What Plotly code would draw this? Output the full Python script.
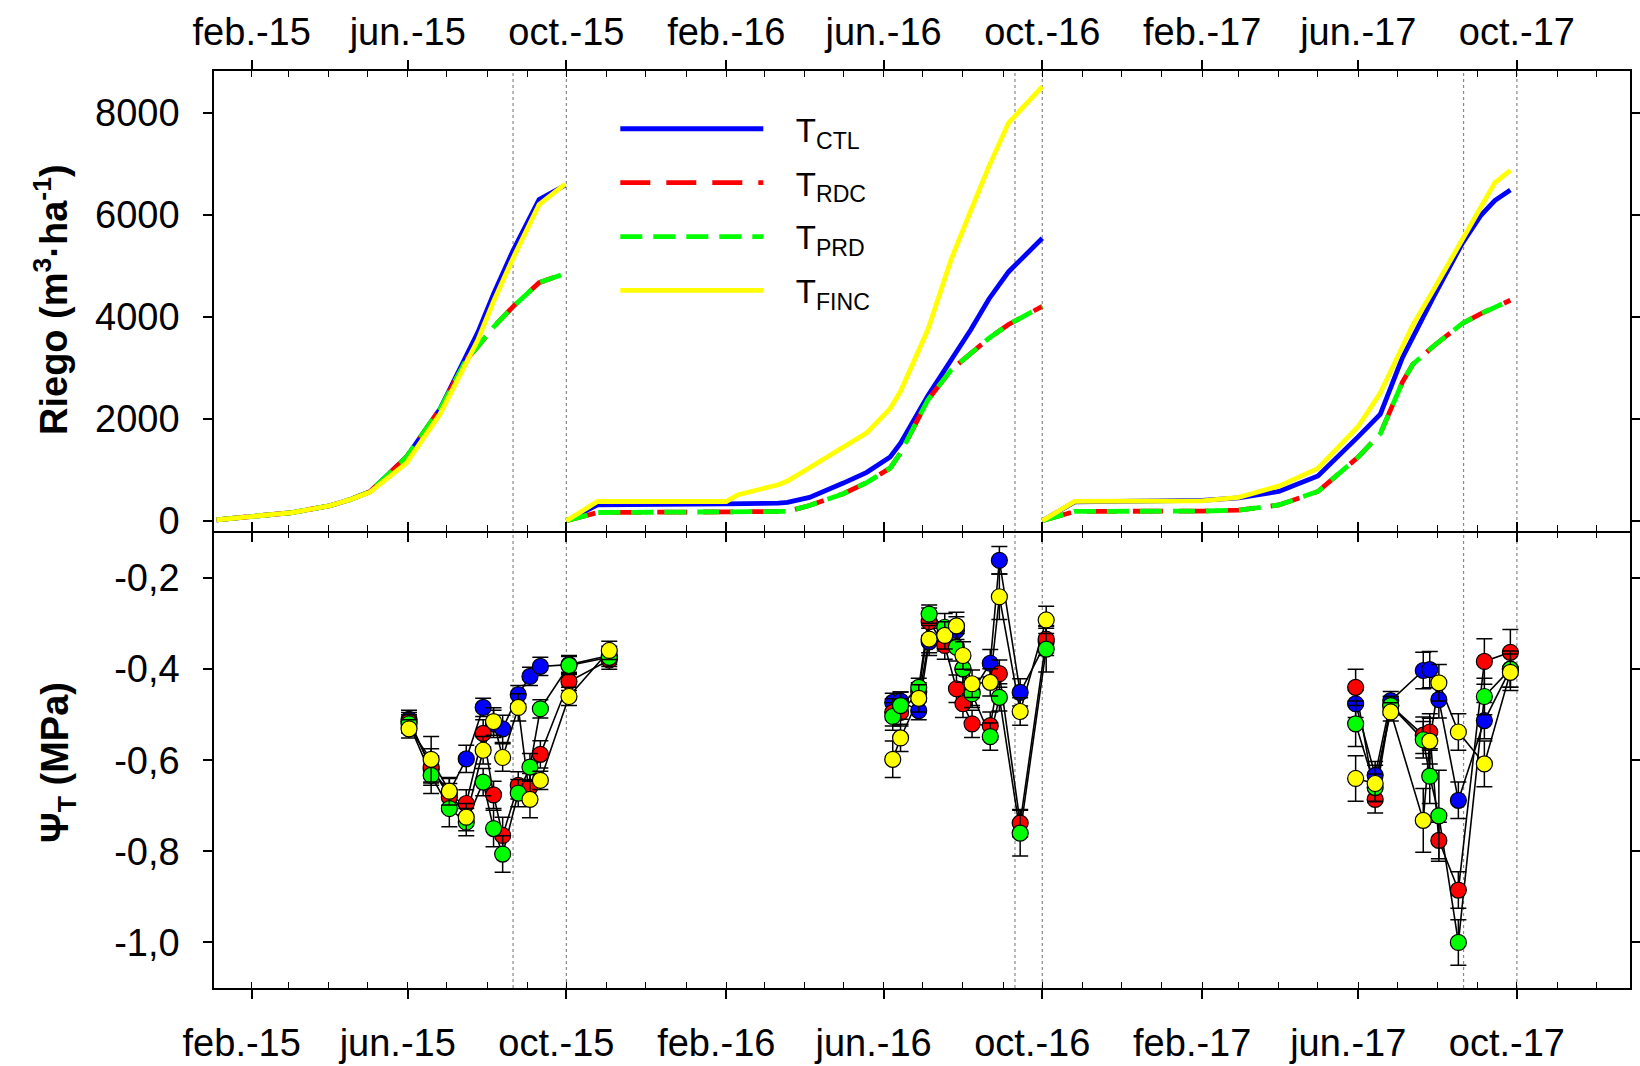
import plotly.graph_objects as go

# ---------------- top panel: cumulative irrigation (m3/ha) ----------------
riego_dates_2015 = ['2015-01-05', '2015-02-01', '2015-03-04', '2015-04-02', '2015-04-17', '2015-05-03',
                    '2015-05-31', '2015-06-26', '2015-07-16', '2015-07-25', '2015-08-06', '2015-08-21',
                    '2015-09-10', '2015-09-30']
ctl_2015 = [20, 80, 160, 295, 410, 570, 1250, 2200, 3250, 3700, 4450, 5300, 6300, 6580]
rdc_2015 = [20, 80, 160, 295, 410, 570, 1250, 2200, 3160, 3420, 3800, 4200, 4670, 4850]
prd_2015 = [20, 80, 160, 295, 410, 570, 1250, 2200, 3160, 3420, 3800, 4200, 4670, 4850]
finc_2015 = [20, 80, 160, 295, 410, 560, 1130, 2100, 3100, 3550, 4300, 5150, 6200, 6600]

riego_dates_2016 = ['2015-10-01', '2015-10-25', '2016-02-01', '2016-02-10', '2016-03-12', '2016-03-19',
                    '2016-04-05', '2016-05-01', '2016-05-19', '2016-06-06', '2016-06-14', '2016-07-05',
                    '2016-07-23', '2016-08-07', '2016-08-21', '2016-09-05', '2016-10-01']
ctl_2016 = [0, 314, 330, 330, 345, 360, 460, 740, 950, 1250, 1520, 2450, 3170, 3745, 4350, 4880, 5540]
rdc_2016 = [0, 163, 175, 175, 180, 185, 300, 530, 750, 1033, 1330, 2370, 2960, 3280, 3580, 3850, 4205]
prd_2016 = [0, 163, 175, 175, 180, 185, 300, 530, 750, 1033, 1330, 2370, 2960, 3280, 3580, 3850, 4205]
finc_2016 = [0, 378, 378, 510, 706, 780, 1040, 1430, 1725, 2200, 2540, 3745, 5130, 6080, 6950, 7800, 8515]

riego_dates_2017 = ['2016-10-01', '2016-10-26', '2017-02-01', '2017-03-01', '2017-04-01', '2017-05-01',
                    '2017-06-01', '2017-06-18', '2017-07-05', '2017-07-13', '2017-07-29', '2017-08-20',
                    '2017-09-03', '2017-09-14', '2017-09-26']
ctl_2017 = [0, 370, 400, 450, 575, 880, 1650, 2092, 3200, 3600, 4394, 5440, 5980, 6280, 6486]
rdc_2017 = [0, 185, 190, 210, 310, 575, 1250, 1709, 2720, 3069, 3428, 3870, 4059, 4186, 4324]
prd_2017 = [0, 185, 190, 210, 310, 575, 1250, 1709, 2720, 3069, 3428, 3870, 4059, 4186, 4324]
finc_2017 = [0, 380, 390, 460, 680, 1025, 1850, 2511, 3412, 3836, 4533, 5510, 6138, 6626, 6870]

# ---------------- bottom panel: stem water potential (MPa) ----------------
psi_dates_2015 = ['2015-06-02', '2015-06-19', '2015-07-03', '2015-07-16', '2015-07-29', '2015-08-06',
                  '2015-08-13', '2015-08-25', '2015-09-03', '2015-09-11', '2015-10-03', '2015-11-03']
psi_ctl_2015 = [-0.510, -0.620, -0.670, -0.597, -0.484, -0.520, -0.531, -0.456, -0.416, -0.394, -0.390, -0.370]
psi_rdc_2015 = [-0.515, -0.615, -0.681, -0.695, -0.541, -0.676, -0.765, -0.655, -0.659, -0.587, -0.427, -0.380]
psi_prd_2015 = [-0.520, -0.633, -0.706, -0.736, -0.648, -0.750, -0.806, -0.672, -0.615, -0.487, -0.392, -0.374]
psi_finc_2015 = [-0.531, -0.598, -0.668, -0.725, -0.578, -0.515, -0.594, -0.484, -0.686, -0.644, -0.460, -0.359]
err_ctl_2015 = [0.02, 0.03, 0.03, 0.03, 0.02, 0.03, 0.03, 0.02, 0.02, 0.02, 0.02, 0.02]
err_rdc_2015 = [0.02, 0.04, 0.03, 0.03, 0.03, 0.03, 0.04, 0.03, 0.03, 0.03, 0.02, 0.02]
err_prd_2015 = [0.02, 0.04, 0.04, 0.03, 0.03, 0.04, 0.04, 0.03, 0.03, 0.02, 0.02, 0.02]
err_finc_2015 = [0.02, 0.05, 0.03, 0.03, 0.03, 0.03, 0.03, 0.03, 0.04, 0.02, 0.02, 0.02]

psi_dates_2016 = ['2016-06-08', '2016-06-14', '2016-06-28', '2016-07-06', '2016-07-18', '2016-07-27',
                  '2016-08-01', '2016-08-08', '2016-08-22', '2016-08-29', '2016-09-14', '2016-10-04']
psi_ctl_2016 = [-0.473, -0.470, -0.491, -0.340, -0.330, -0.315, -0.400, -0.450, -0.387, -0.161, -0.451, -0.340]
psi_rdc_2016 = [-0.495, -0.495, -0.450, -0.296, -0.348, -0.443, -0.476, -0.520, -0.524, -0.410, -0.738, -0.334]
psi_prd_2016 = [-0.504, -0.480, -0.440, -0.279, -0.308, -0.352, -0.399, -0.454, -0.548, -0.462, -0.760, -0.356]
psi_finc_2016 = [-0.598, -0.551, -0.464, -0.334, -0.326, -0.305, -0.370, -0.432, -0.429, -0.241, -0.493, -0.292]
err_ctl_2016 = [0.02, 0.02, 0.02, 0.03, 0.03, 0.03, 0.03, 0.03, 0.03, 0.03, 0.03, 0.03]
err_rdc_2016 = [0.03, 0.03, 0.02, 0.03, 0.03, 0.03, 0.03, 0.03, 0.03, 0.03, 0.03, 0.03]
err_prd_2016 = [0.03, 0.03, 0.02, 0.02, 0.03, 0.03, 0.03, 0.03, 0.03, 0.03, 0.05, 0.05]
err_finc_2016 = [0.04, 0.03, 0.03, 0.03, 0.03, 0.03, 0.03, 0.03, 0.03, 0.05, 0.03, 0.03]

psi_dates_2017 = ['2017-05-30', '2017-06-14', '2017-06-26', '2017-07-21', '2017-07-26', '2017-08-02',
                  '2017-08-17', '2017-09-06', '2017-09-26']
psi_ctl_2017 = [-0.476, -0.633, -0.469, -0.403, -0.401, -0.467, -0.688, -0.513, -0.400]
psi_rdc_2017 = [-0.440, -0.686, -0.480, -0.545, -0.538, -0.776, -0.885, -0.383, -0.363]
psi_prd_2017 = [-0.520, -0.660, -0.480, -0.555, -0.635, -0.722, -1.000, -0.460, -0.400]
psi_finc_2017 = [-0.640, -0.651, -0.494, -0.732, -0.558, -0.430, -0.538, -0.608, -0.407]
err_ctl_2017 = [0.03, 0.03, 0.02, 0.04, 0.04, 0.04, 0.04, 0.04, 0.04]
err_rdc_2017 = [0.04, 0.03, 0.02, 0.04, 0.04, 0.04, 0.04, 0.05, 0.05]
err_prd_2017 = [0.05, 0.03, 0.02, 0.04, 0.06, 0.10, 0.05, 0.04, 0.04]
err_finc_2017 = [0.05, 0.04, 0.02, 0.07, 0.05, 0.04, 0.04, 0.05, 0.04]

# ---------------- axes / labels ----------------
tick_dates = ['2015-02-01', '2015-06-01', '2015-10-01', '2016-02-01', '2016-06-01', '2016-10-01',
              '2017-02-01', '2017-06-01', '2017-10-01']
tick_labels = ['feb.-15', 'jun.-15', 'oct.-15', 'feb.-16', 'jun.-16', 'oct.-16', 'feb.-17', 'jun.-17', 'oct.-17']
x_range = ['2015-01-03', '2017-12-27']
riego_ticks = [0, 2000, 4000, 6000, 8000]
riego_labels = ['0', '2000', '4000', '6000', '8000']
psi_ticks = [-0.2, -0.4, -0.6, -0.8, -1.0]
psi_labels = ['-0,2', '-0,4', '-0,6', '-0,8', '-1,0']
harvest_dates = ['2015-08-21', '2015-10-01', '2016-09-10', '2016-10-01', '2017-08-21', '2017-10-01']

treatments = ['CTL', 'RDC', 'PRD', 'FINC']
colors = {'CTL': '#0000FF', 'RDC': '#FF0000', 'PRD': '#00FF00', 'FINC': '#FFFF00'}
dashes = {'CTL': 'solid', 'RDC': '30px,16px', 'PRD': '22px,11px', 'FINC': 'solid'}

riego = {
    'CTL': [(riego_dates_2015, ctl_2015), (riego_dates_2016, ctl_2016), (riego_dates_2017, ctl_2017)],
    'RDC': [(riego_dates_2015, rdc_2015), (riego_dates_2016, rdc_2016), (riego_dates_2017, rdc_2017)],
    'PRD': [(riego_dates_2015, prd_2015), (riego_dates_2016, prd_2016), (riego_dates_2017, prd_2017)],
    'FINC': [(riego_dates_2015, finc_2015), (riego_dates_2016, finc_2016), (riego_dates_2017, finc_2017)],
}
psi = {
    'CTL': [(psi_dates_2015, psi_ctl_2015, err_ctl_2015), (psi_dates_2016, psi_ctl_2016, err_ctl_2016),
            (psi_dates_2017, psi_ctl_2017, err_ctl_2017)],
    'RDC': [(psi_dates_2015, psi_rdc_2015, err_rdc_2015), (psi_dates_2016, psi_rdc_2016, err_rdc_2016),
            (psi_dates_2017, psi_rdc_2017, err_rdc_2017)],
    'PRD': [(psi_dates_2015, psi_prd_2015, err_prd_2015), (psi_dates_2016, psi_prd_2016, err_prd_2016),
            (psi_dates_2017, psi_prd_2017, err_prd_2017)],
    'FINC': [(psi_dates_2015, psi_finc_2015, err_finc_2015), (psi_dates_2016, psi_finc_2016, err_finc_2016),
             (psi_dates_2017, psi_finc_2017, err_finc_2017)],
}


def join(parts):
    xs, ys, es = [], [], []
    for i, p in enumerate(parts):
        if i:
            xs.append(None); ys.append(None); es.append(None)
        xs += list(p[0]); ys += list(p[1])
        es += list(p[2]) if len(p) > 2 else [None] * len(p[0])
    return xs, ys, es


FONT = 'Liberation Sans, Arial, sans-serif'
NB = '\u00a0'
fig = go.Figure()

for t in treatments:
    xs, ys, _ = join(riego[t])
    fig.add_trace(go.Scatter(x=xs, y=ys, mode='lines', connectgaps=False,
                             line=dict(color=colors[t], width=4.8, dash=dashes[t]),
                             name=NB * 3 + 'T<sub>%s</sub>' % t, legendgroup=t, xaxis='x', yaxis='y'))

for t in treatments:
    xs, ys, _ = join(psi[t])
    fig.add_trace(go.Scatter(x=xs, y=ys, mode='lines', connectgaps=False,
                             line=dict(color='black', width=1.6), showlegend=False,
                             hoverinfo='skip', xaxis='x2', yaxis='y2'))
for t in treatments:
    xs, ys, es = join(psi[t])
    fig.add_trace(go.Scatter(x=xs, y=ys, mode='markers', showlegend=False,
                             marker=dict(size=16, color=colors[t], line=dict(color='black', width=1.2)),
                             error_y=dict(type='data', array=es, color='black', thickness=1.5, width=8),
                             xaxis='x2', yaxis='y2'))

for d in harvest_dates:
    fig.add_shape(type='line', xref='x', yref='paper', x0=d, x1=d, y0=0, y1=1,
                  line=dict(color='#888888', width=1.2, dash='dot'), layer='below')

SPLIT_TOP = 457 / 917
SPLIT_BOT = 455.5 / 917
common_x = dict(type='date', range=x_range, tickvals=tick_dates, ticktext=tick_labels, showgrid=False,
                zeroline=False, showline=True, linecolor='black', linewidth=1.5, mirror='allticks',
                tickcolor='black', tickwidth=1.5, ticklen=9, automargin=False)
minor = dict(ticks='inside', ticklen=6, tickwidth=1.2, tickcolor='black', dtick='M1',
             tick0='2015-01-01', showgrid=False)
common_y = dict(showgrid=False, zeroline=False, showline=True, linecolor='black', linewidth=1.5,
                mirror='allticks', tickcolor='black', tickwidth=1.5, ticklen=9, automargin=False)

fig.update_layout(
    width=1640, height=1066,
    margin=dict(l=214, r=10, t=71, b=78, autoexpand=False),
    paper_bgcolor='white', plot_bgcolor='white',
    font=dict(family=FONT, size=38, color='black'),
    xaxis=dict(domain=[0, 1], anchor='y', side='top', ticks='outside', minor=minor,
               tickfont=dict(size=38), ticklabelstandoff=0, **common_x),
    xaxis3=dict(overlaying='x', anchor='y', side='top', ticks='inside', showticklabels=False, **common_x),
    xaxis2=dict(domain=[0, 1], anchor='y2', side='bottom', ticks='outside', minor=minor,
                tickfont=dict(size=38), ticklabelstandoff=12, ticklabelshift=-10, **common_x),
    xaxis4=dict(overlaying='x2', anchor='y2', side='bottom', ticks='inside', showticklabels=False,
                **common_x),
    yaxis=dict(domain=[SPLIT_TOP, 1], anchor='x', range=[-200, 8820], tickvals=riego_ticks,
               ticktext=riego_labels, ticks='outside', ticklabelstandoff=16, **common_y),
    yaxis3=dict(overlaying='y', anchor='x', range=[-200, 8820], tickvals=riego_ticks,
                ticks='inside', showticklabels=False, **common_y),
    yaxis2=dict(domain=[0, SPLIT_BOT], anchor='x2', range=[-1.1, -0.1], tickvals=psi_ticks,
                ticktext=psi_labels, ticks='outside', ticklabelstandoff=16, **common_y),
    yaxis4=dict(overlaying='y2', anchor='x2', range=[-1.1, -0.1], tickvals=psi_ticks,
                ticks='inside', showticklabels=False, **common_y),
    legend=dict(x=0.2834, y=0.9675, xanchor='left', yanchor='top', bgcolor='rgba(0,0,0,0)',
                font=dict(size=33), itemwidth=143, tracegroupgap=8),
    showlegend=True,
)

fig.add_annotation(text='<b>Riego (m<sup>3</sup>·ha<sup>-1</sup>)</b>', xref='paper', yref='paper',
                   x=(51 - 214) / 1416, y=(988 - 300) / 917, textangle=-90, showarrow=False,
                   xanchor='center', yanchor='middle', font=dict(size=38))
fig.add_annotation(text='<b>Ψ<sub>T</sub> (MPa)</b>', xref='paper', yref='paper',
                   x=(58 - 214) / 1416, y=(988 - 763) / 917, textangle=-90, showarrow=False,
                   xanchor='center', yanchor='middle', font=dict(size=38))

fig.write_html('out.html')
